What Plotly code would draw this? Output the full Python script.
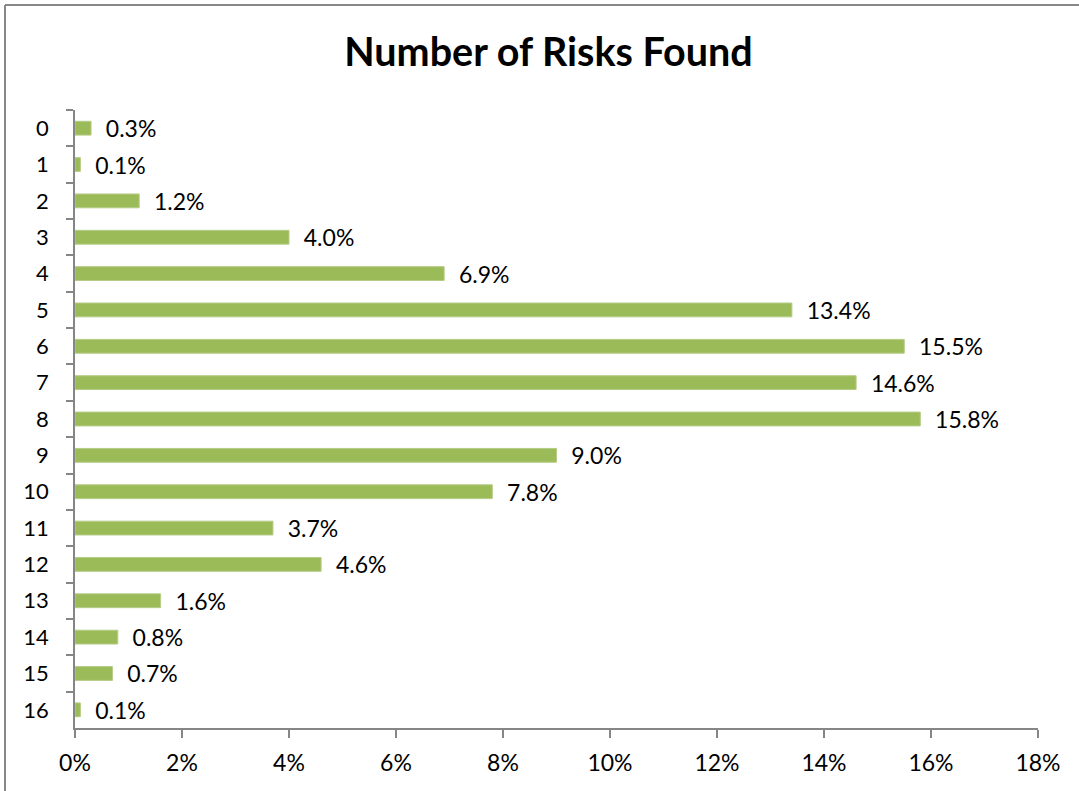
import plotly.graph_objects as go

categories = [str(i) for i in range(17)]
values = [0.003, 0.001, 0.012, 0.040, 0.069, 0.134, 0.155, 0.146, 0.158,
          0.090, 0.078, 0.037, 0.046, 0.016, 0.008, 0.007, 0.001]
x_ticks = [0, 0.02, 0.04, 0.06, 0.08, 0.10, 0.12, 0.14, 0.16, 0.18]

FONT = "Lato"
W, H = 1079, 791
L, R, T, B = 75, 41, 110, 63
pw, ph = W - L - R, H - T - B

fig = go.Figure(go.Bar(
    x=values, y=categories, orientation="h",
    marker=dict(color="#9BBB59", line=dict(color="#B5CC86", width=1)),
    width=0.38,
    text=values, texttemplate="  %{x:.1%}", textposition="outside",
    constraintext="none",
    textfont=dict(family=FONT, size=23, color="#000000"),
    cliponaxis=False,
))

fig.update_layout(
    width=W, height=H,
    margin=dict(l=L, r=R, t=T, b=B),
    paper_bgcolor="white", plot_bgcolor="white",
    showlegend=False,
    title=dict(text="<b>Number of Risks Found</b>", x=548.5 / W, xanchor="center",
               y=1 - 52 / H, yanchor="middle",
               font=dict(family=FONT, size=39.5, color="#000000")),
    font=dict(family=FONT, size=22, color="#000000"),
)
fig.update_xaxes(
    range=[0, 0.18], tickvals=x_ticks, tickformat=".0%",
    showgrid=False, zeroline=False,
    showline=True, linecolor="#868686", linewidth=1.5,
    ticks="outside", ticklen=8, tickcolor="#868686", tickwidth=1.5,
    tickfont=dict(family=FONT, size=23, color="#000000"),
    ticklabelstandoff=6,
)
fig.update_yaxes(
    type="category", autorange="reversed",
    showgrid=False, zeroline=False,
    showline=True, linecolor="#868686", linewidth=1.5,
    ticks="outside", ticklen=7, tickcolor="#868686", tickwidth=1.5,
    tickson="boundaries",
    tickfont=dict(family=FONT, size=22, color="#000000"),
    ticklabelstandoff=20,
)

# chart frame (top and left edges visible)
x_left = (5 - L) / pw
y_top = (H - B - 5) / ph
fig.add_shape(type="line", xref="paper", yref="paper",
              x0=x_left, x1=(W + 5 - L) / pw, y0=y_top, y1=y_top,
              line=dict(color="#878787", width=2))
fig.add_shape(type="line", xref="paper", yref="paper",
              x0=x_left, x1=x_left, y0=y_top, y1=-(B + 5) / ph,
              line=dict(color="#878787", width=2))

fig.write_html("out.html", config={"displayModeBar": False},
               post_script="document.body.style.margin='0px';document.body.style.overflow='hidden';")
